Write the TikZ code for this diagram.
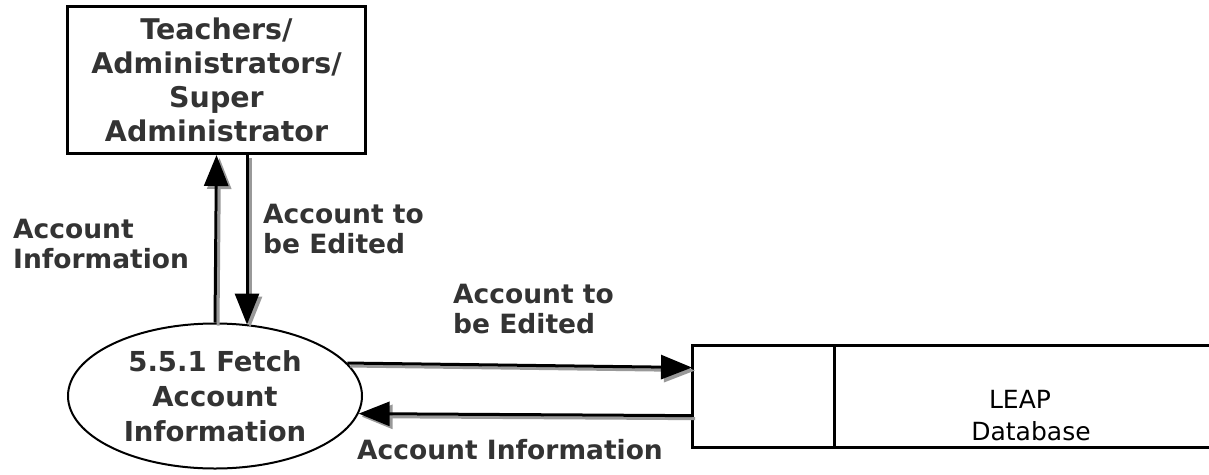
\documentclass[tikz,border=0pt]{standalone}
\usepackage{fontspec}
\setmainfont{DejaVu Sans}
\usetikzlibrary{arrows.meta,shapes.geometric,calc}
\definecolor{txt}{HTML}{333333}
\begin{document}
\begin{tikzpicture}[x=1pt,y=-1pt,
  lbl/.style={font=\fontsize{26.5}{30}\selectfont\bfseries, text=txt, align=left, inner sep=0pt},
  boxtxt/.style={font=\fontsize{28.5}{34}\selectfont\bfseries, text=txt, align=center, inner sep=0pt},
  proctxt/.style={font=\fontsize{27.5}{35}\selectfont\bfseries, text=txt, align=center, inner sep=0pt},
  flow/.style={line width=3pt, -{Triangle[length=31pt,width=24pt]},
    preaction={draw=black!40, line width=3pt, transform canvas={shift={(3pt,-3pt)}}}},
  entity/.style={draw, line width=3pt, anchor=north west, minimum width=298pt, minimum height=147pt},
  process/.style={ellipse, draw, line width=2pt, minimum width=294pt, minimum height=145pt},
  storeline/.style={line width=3pt}
]
\useasboundingbox (0,0) rectangle (1209,474);

\node[entity, boxtxt] (ext) at (66,5) {Teachers/\\Administrators/\\Super\\Administrator};
\node[process, proctxt] (proc) at (215,396) {5.5.1 Fetch\\Account\\Information};

\node[anchor=north west, minimum width=520pt, minimum height=102pt, inner sep=0pt] (ds) at (692,345) {};
\draw[storeline] (ds.north east) -- (ds.north west) -- (ds.south west) -- (ds.south east);
\coordinate (divT) at ($(ds.north west)+(142,0)$);
\coordinate (divB) at ($(ds.south west)+(142,0)$);
\draw[storeline] (divT) -- (divB);
\node[font=\fontsize{25}{32}\selectfont, align=center, inner sep=0pt, anchor=north] (dslbl) at (1031,390) {LEAP\hspace*{22pt}\\Database};

% flows
\coordinate (dnx) at (247,0);
\draw[flow] (proc.north) -- (ext.south);
\draw[flow] (ext.south -| dnx) -- ($(proc.north -| dnx)+(0,2)$);
\draw[flow] (proc.14) -- ($(ds.north west)!0.22!(ds.south west)$);
\draw[flow] ($(ds.north west)!0.69!(ds.south west)$) -- (proc.-7.6);

% labels
\node[lbl, anchor=north west] (l1) at (13,219) {Account\\Information};
\node[lbl, anchor=north west] (l2) at (263,204) {Account to\\be Edited};
\node[lbl, anchor=north west] (l3) at (453,284) {Account to\\be Edited};
\node[lbl, anchor=north west] (l4) at (357,439) {Account Information};
\end{tikzpicture}
\end{document}
